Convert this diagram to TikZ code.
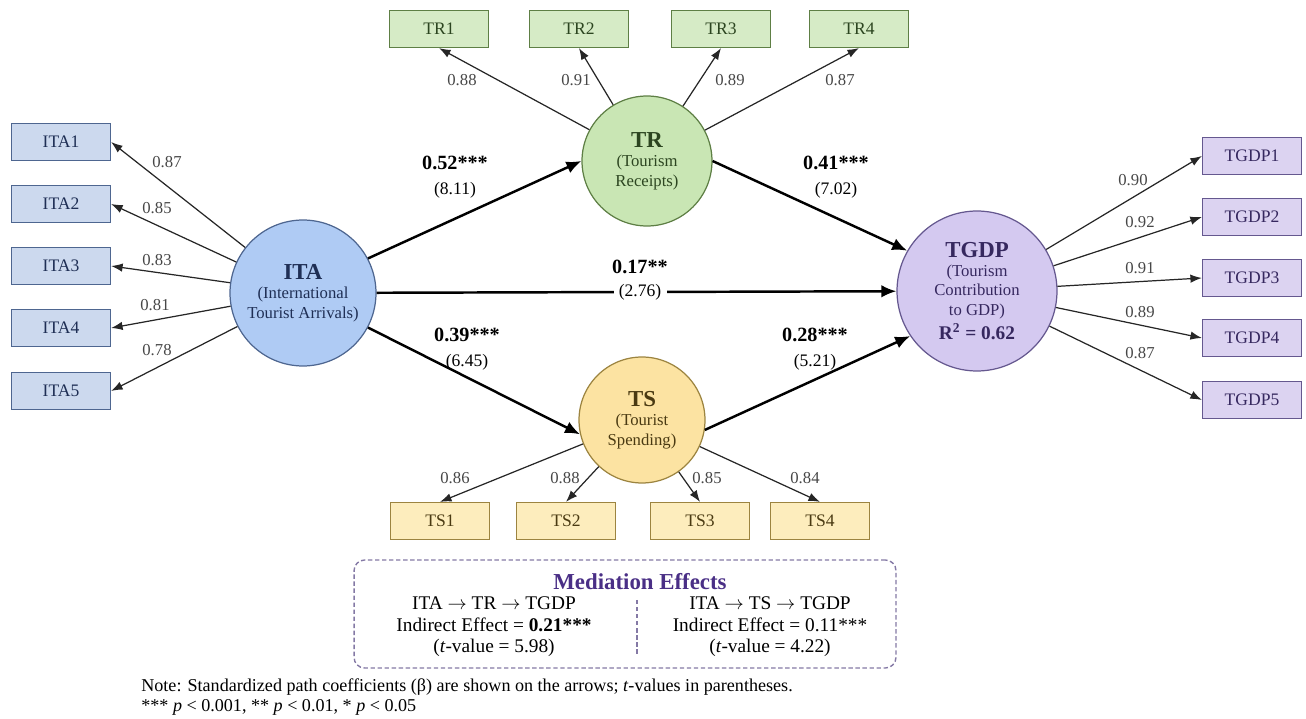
\documentclass[tikz,border=0pt]{standalone}
\usepackage{fontspec}
\setmainfont{Liberation Serif}
\usetikzlibrary{arrows.meta}

\definecolor{itafill}{HTML}{AFCBF4}
\definecolor{itabox}{HTML}{CCD9EE}
\definecolor{itaedge}{HTML}{4E6690}
\definecolor{itatext}{HTML}{1F2F55}
\definecolor{trfill}{HTML}{C9E6B4}
\definecolor{trbox}{HTML}{D6EBC6}
\definecolor{tredge}{HTML}{5E7F45}
\definecolor{trtext}{HTML}{2C4520}
\definecolor{tsfill}{HTML}{FCE3A2}
\definecolor{tsbox}{HTML}{FDEDBD}
\definecolor{tsedge}{HTML}{9C8440}
\definecolor{tstext}{HTML}{4A3A12}
\definecolor{gdpfill}{HTML}{D4C9F0}
\definecolor{gdpbox}{HTML}{DCD3F1}
\definecolor{gdpedge}{HTML}{65588F}
\definecolor{gdptext}{HTML}{36285F}
\definecolor{medtitle}{HTML}{4A2F86}

\tikzset{
  latent/.style={circle, draw=#1, line width=0.7pt, align=center, inner sep=0pt,
    font=\fontsize{9.5}{11}\selectfont},
  indic/.style={rectangle, draw=#1, line width=0.7pt, minimum width=1.98cm,
    minimum height=0.74cm, inner sep=0pt, font=\fontsize{10}{12}\selectfont},
  load/.style={-{Latex[length=2.3mm,width=1.7mm]}, line width=0.7pt, draw=black!85},
  struct/.style={-{Latex[length=3mm,width=2.5mm]}, line width=1.4pt},
  loadlab/.style={font=\fontsize{9.5}{11}\selectfont, text=black!72, inner sep=1pt},
  coef/.style={align=center, inner sep=1pt, font=\fontsize{10}{14}\selectfont},
}

\begin{document}
\begin{tikzpicture}[x=0.02cm, y=-0.02cm]
        \useasboundingbox (0,0) rectangle (1306,719);

        % latent constructs
        \node[latent=itaedge, fill=itafill, text=itatext, minimum size=2.92cm] (ita) at (303,293)
            {\fontsize{13}{15}\selectfont\textbf{ITA}\\(International\\Tourist Arrivals)};
        \node[latent=tredge, fill=trfill, text=trtext, minimum size=2.6cm] (tr) at (647,161)
            {\fontsize{13}{15}\selectfont\textbf{TR}\\(Tourism\\Receipts)};
        \node[latent=tsedge, fill=tsfill, text=tstext, minimum size=2.52cm] (ts) at (642,420)
            {\fontsize{13}{15}\selectfont\textbf{TS}\\(Tourist\\Spending)};
        \node[latent=gdpedge, fill=gdpfill, text=gdptext, minimum size=3.2cm] (tgdp) at (977,291)
            {\fontsize{13}{15}\selectfont\textbf{TGDP}\\(Tourism\\Contribution\\to GDP)\\[2pt]
             \fontsize{11}{13}\selectfont\textbf{R\textsuperscript{2} = 0.62}};

        % ITA indicators
        \node[indic=itaedge, fill=itabox, text=itatext] (ita1) at (61,142) {ITA1};
        \node[indic=itaedge, fill=itabox, text=itatext] (ita2) at (61,204) {ITA2};
        \node[indic=itaedge, fill=itabox, text=itatext] (ita3) at (61,266) {ITA3};
        \node[indic=itaedge, fill=itabox, text=itatext] (ita4) at (61,328) {ITA4};
        \node[indic=itaedge, fill=itabox, text=itatext] (ita5) at (61,391) {ITA5};

        % TR indicators
        \node[indic=tredge, fill=trbox, text=trtext] (tr1) at (439,29) {TR1};
        \node[indic=tredge, fill=trbox, text=trtext] (tr2) at (579,29) {TR2};
        \node[indic=tredge, fill=trbox, text=trtext] (tr3) at (721,29) {TR3};
        \node[indic=tredge, fill=trbox, text=trtext] (tr4) at (859,29) {TR4};

        % TS indicators
        \node[indic=tsedge, fill=tsbox, text=tstext] (ts1) at (440,521) {TS1};
        \node[indic=tsedge, fill=tsbox, text=tstext] (ts2) at (566,521) {TS2};
        \node[indic=tsedge, fill=tsbox, text=tstext] (ts3) at (700,521) {TS3};
        \node[indic=tsedge, fill=tsbox, text=tstext] (ts4) at (820,521) {TS4};

        % TGDP indicators
        \node[indic=gdpedge, fill=gdpbox, text=gdptext] (tgdp1) at (1252,156) {TGDP1};
        \node[indic=gdpedge, fill=gdpbox, text=gdptext] (tgdp2) at (1252,217) {TGDP2};
        \node[indic=gdpedge, fill=gdpbox, text=gdptext] (tgdp3) at (1252,278) {TGDP3};
        \node[indic=gdpedge, fill=gdpbox, text=gdptext] (tgdp4) at (1252,338) {TGDP4};
        \node[indic=gdpedge, fill=gdpbox, text=gdptext] (tgdp5) at (1252,400) {TGDP5};

        % loadings
        \draw[load] (ita) -- (ita1.east);
        \draw[load] (ita) -- (ita2.east);
        \draw[load] (ita) -- (ita3.east);
        \draw[load] (ita) -- (ita4.east);
        \draw[load] (ita) -- (ita5.east);
        \node[loadlab] (lita1) at (167,162) {0.87};
        \node[loadlab] (lita2) at (157,208) {0.85};
        \node[loadlab] (lita3) at (157,260) {0.83};
        \node[loadlab] (lita4) at (155,305) {0.81};
        \node[loadlab] (lita5) at (157,350) {0.78};

        \draw[load] (tr) -- (tr1.south);
        \draw[load] (tr) -- (tr2.south);
        \draw[load] (tr) -- (tr3.south);
        \draw[load] (tr) -- (tr4.south);
        \node[loadlab] (ltr1) at (462,80) {0.88};
        \node[loadlab] (ltr2) at (576,80) {0.91};
        \node[loadlab] (ltr3) at (730,80) {0.89};
        \node[loadlab] (ltr4) at (840,80) {0.87};

        \draw[load] (ts) -- (ts1.north);
        \draw[load] (ts) -- (ts2.north);
        \draw[load] (ts) -- (ts3.north);
        \draw[load] (ts) -- (ts4.north);
        \node[loadlab] (lts1) at (455,478) {0.86};
        \node[loadlab] (lts2) at (565,478) {0.88};
        \node[loadlab] (lts3) at (707,478) {0.85};
        \node[loadlab] (lts4) at (805,478) {0.84};

        \draw[load] (tgdp) -- (tgdp1.west);
        \draw[load] (tgdp) -- (tgdp2.west);
        \draw[load] (tgdp) -- (tgdp3.west);
        \draw[load] (tgdp) -- (tgdp4.west);
        \draw[load] (tgdp) -- (tgdp5.west);
        \node[loadlab] (lgdp1) at (1133,180) {0.90};
        \node[loadlab] (lgdp2) at (1140,222) {0.92};
        \node[loadlab] (lgdp3) at (1140,268) {0.91};
        \node[loadlab] (lgdp4) at (1140,312) {0.89};
        \node[loadlab] (lgdp5) at (1140,353) {0.87};

        % structural paths
        \draw[struct] (ita.28) -- (tr.west);
        \draw[struct] (ita.-28) -- (ts.193);
        \draw[struct] (tr.east) -- (tgdp.150);
        \draw[struct] (ts.-9) -- (tgdp.214);
        \draw[struct] (ita) -- (tgdp);

        \node[coef] (cita-tr) at (455,177) {\fontsize{11.5}{14}\selectfont\textbf{0.52***}\\(8.11)};
        \node[coef] (ctr-gdp) at (836,177) {\fontsize{11.5}{14}\selectfont\textbf{0.41***}\\(7.02)};
        \node[coef] (cita-ts) at (467,349) {\fontsize{11.5}{14}\selectfont\textbf{0.39***}\\(6.45)};
        \node[coef] (cts-gdp) at (815,349) {\fontsize{11.5}{14}\selectfont\textbf{0.28***}\\(5.21)};
        \node[coef] (cita-gdp) at (640,267) {\fontsize{11.5}{14}\selectfont\textbf{0.17**}};
        \node[coef, fill=white, inner xsep=3pt] (tita-gdp) at (640,292) {(2.76)};

        % mediation box
        \node[draw=gdpedge!80, dashed, dash pattern=on 2.5pt off 1.5pt, line width=0.8pt,
              rounded corners=6pt, minimum width=10.84cm, minimum height=2.16cm] (med) at (625,614) {};
        \node[text=medtitle, font=\fontsize{13}{15}\selectfont\bfseries] (medhead) at (640,582) {Mediation Effects};
        \node[align=center, font=\fontsize{11}{12.3}\selectfont] (medleft) at (494,627)
            {ITA $\rightarrow$ TR $\rightarrow$ TGDP\\Indirect Effect = \textbf{0.21***}\\(\textit{t}-value = 5.98)};
        \node[align=center, font=\fontsize{11}{12.3}\selectfont] (medright) at (770,627)
            {ITA $\rightarrow$ TS $\rightarrow$ TGDP\\Indirect Effect = 0.11***\\(\textit{t}-value = 4.22)};
        \coordinate (divtop) at (637,600);
        \coordinate (divbot) at (637,655);
        \draw[gdpedge!80, dashed, dash pattern=on 2.5pt off 1.5pt, line width=0.7pt] (divtop) -- (divbot);

        % note
        \node[anchor=west, align=left, inner sep=0pt, font=\fontsize{10.3}{11}\selectfont] (note) at (141,697)
            {Note: Standardized path coefficients (β) are shown on the arrows; \textit{t}-values in parentheses.\\
             *** \textit{p} < 0.001, ** \textit{p} < 0.01, * \textit{p} < 0.05};

    \end{tikzpicture}
\end{document}
